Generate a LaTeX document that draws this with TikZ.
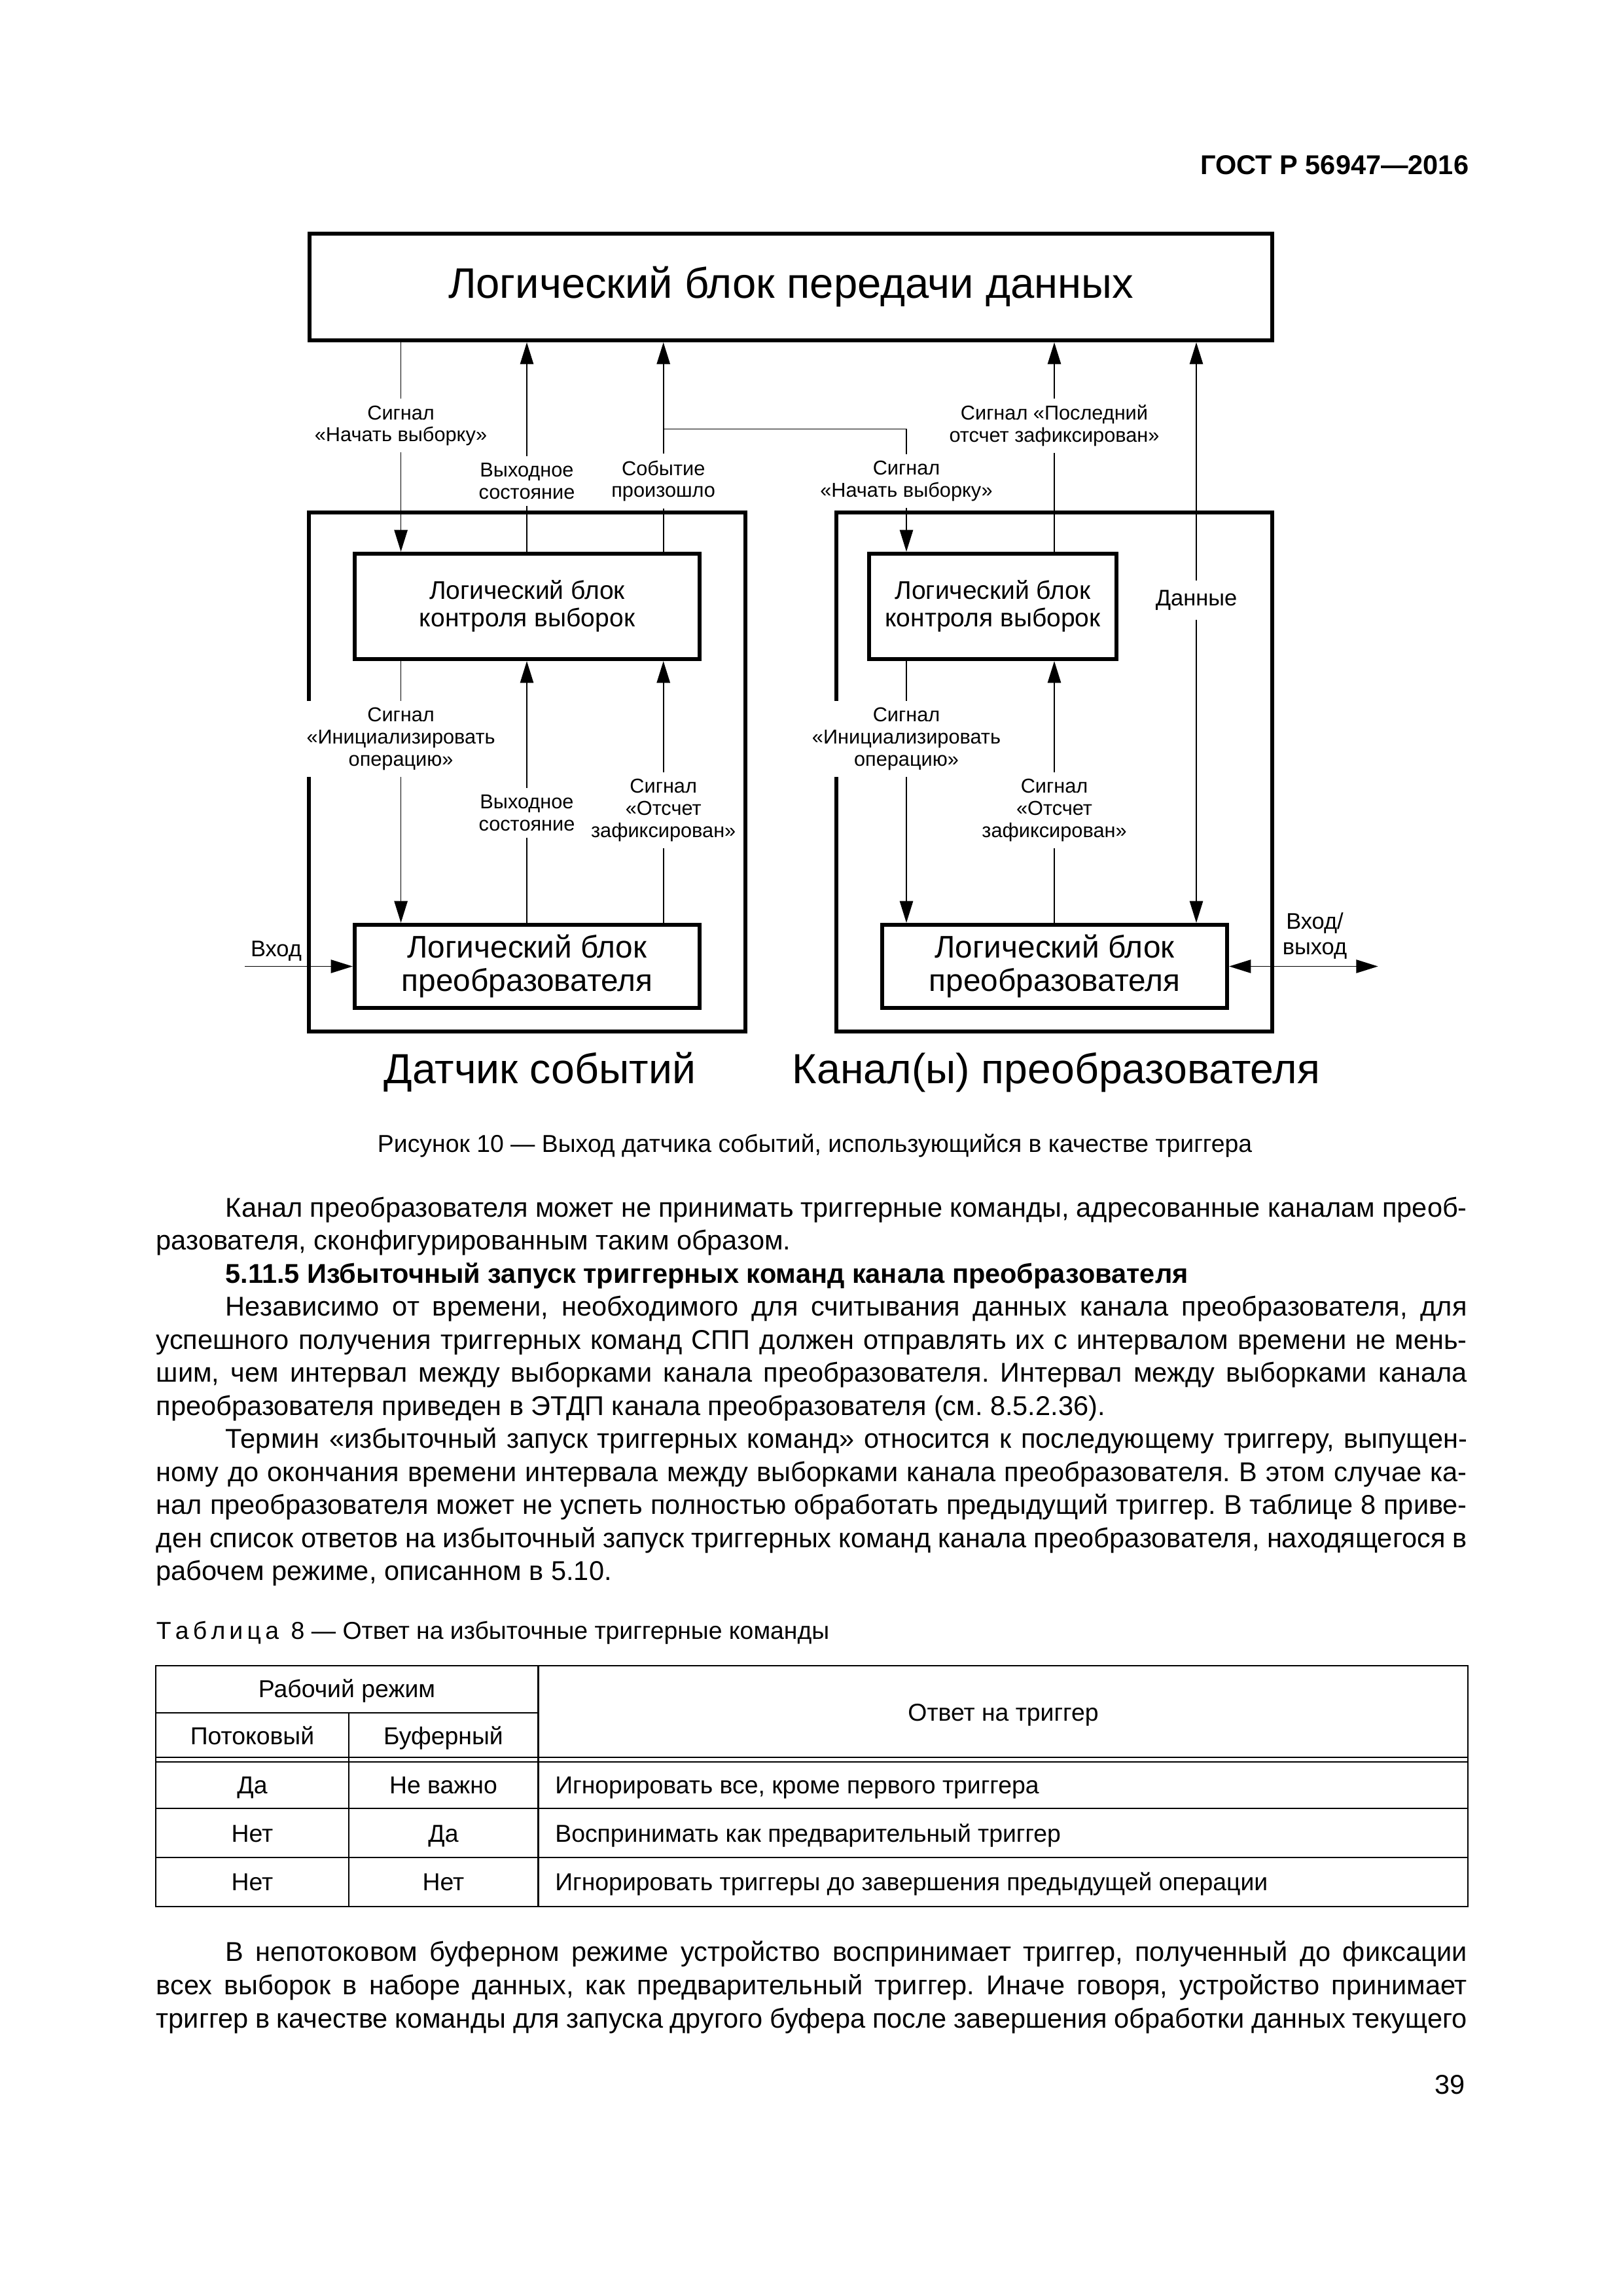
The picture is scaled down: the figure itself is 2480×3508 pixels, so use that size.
\documentclass[tikz,border=0pt]{standalone}
\usepackage{fontspec}
\setmainfont{Liberation Sans}
\usepackage{tikz}
\usetikzlibrary{arrows}
\usetikzlibrary{arrows.meta}
\usetikzlibrary{backgrounds}
\usetikzlibrary{positioning}

\newdimen\pxu
\pxu=0.084677mm
\newcommand{\fullln}[1]{\makebox[2003\pxu][s]{#1}}
\newcommand{\indln}[1]{\makebox[1897\pxu][s]{#1}}
\frenchspacing

\begin{document}
\begin{tikzpicture}
  [x=0.084677mm, y=-0.084677mm,
   >={Triangle[length=8pt,width=4.9pt]},
   block/.style={draw, line width=1.5pt, inner sep=0pt, align=center},
   sig/.style={fill=white, inner xsep=1.5pt, inner ysep=2.5pt, align=center,
               font=\fontsize{7.4}{8.1}\selectfont},
   port/.style={inner sep=0pt, align=center, font=\fontsize{8.3}{9.4}\selectfont},
   bigcap/.style={anchor=base, inner sep=0pt, font=\fontsize{15.5}{18}\selectfont},
   bodyline/.style={anchor=base west, inner sep=0pt, font=\fontsize{10}{12}\selectfont},
   cell/.style={anchor=base, inner sep=0pt, font=\fontsize{9}{11}\selectfont}
  ]

 \useasboundingbox (0,0) rectangle (2480,3508);

 \path (2245,266) node (gost) [anchor=base east, inner sep=0pt,
        font=\fontsize{10}{12}\selectfont\bfseries] {ГОСТ Р 56947—2016};

 % blocks of the figure
 \path
   (1208.5,438.5) node (data)    [block, minimum width=1471*\pxu, minimum height=163*\pxu,
                                  font=\fontsize{15.7}{18}\selectfont] {Логический блок передачи данных}
   (805.5,1179.5) node (sensor)  [block, minimum width=667*\pxu, minimum height=793*\pxu] {}
   (1611,1179.5)  node (channel) [block, minimum width=666*\pxu, minimum height=793*\pxu] {}
   (805.5,926.5)  node (ctrlL)   [block, minimum width=527*\pxu, minimum height=161*\pxu,
                                  font=\fontsize{9.4}{10.1}\selectfont] {Логический блок\\контроля выборок}
   (1517,926.5)   node (ctrlR)   [block, minimum width=378.5*\pxu, minimum height=161*\pxu,
                                  font=\fontsize{9.4}{10.1}\selectfont] {Логический блок\\контроля выборок}
   (805.5,1476.5) node (convL)   [block, minimum width=527*\pxu, minimum height=127*\pxu,
                                  font=\fontsize{11.5}{12.3}\selectfont] {Логический блок\\преобразователя}
   (1611.5,1476.5) node (convR)  [block, minimum width=527*\pxu, minimum height=127*\pxu,
                                  font=\fontsize{11.5}{12.3}\selectfont] {Логический блок\\преобразователя}
   (825,1655)     node (sensorcap)  [bigcap] {Датчик событий}
   (1614,1655)    node (channelcap) [bigcap] {Канал(ы) преобразователя}
   ;

 % signal labels, they sit on the lines
 \path
   (612.6,650.3)  node (startL) [sig] {Сигнал\\«Начать выборку»}
   (805,735)      node (outL)   [sig] {Выходное\\состояние}
   (1013.7,735)   node (evt)    [sig] {Событие\\произошло}
   (1385,735)     node (startR) [sig] {Сигнал\\«Начать выборку»}
   (1611,650.3)   node (lastR)  [sig] {Сигнал «Последний\\отсчет зафиксирован»}
   (1828,917)     node (dataR)  [port, fill=white, inner ysep=3.5pt] {Данные}
   (612.6,1129)   node (initL)  [sig] {Сигнал\\«Инициализировать\\операцию»}
   (805,1242)     node (stateL) [sig] {Выходное\\состояние}
   (1013.7,1238)  node (fixL)   [sig] {Сигнал\\«Отсчет\\зафиксирован»}
   (1385,1129)    node (initR)  [sig] {Сигнал\\«Инициализировать\\операцию»}
   (1611,1238)    node (fixR)   [sig] {Сигнал\\«Отсчет\\зафиксирован»}
   (422,1461.5)   node (inlbl)  [port, anchor=base] {Вход}
   (2009,1429.5)  node (iolbl)  [port] {Вход/\\выход}
   ;
 \coordinate (junc)   at (1013.7,655.5);
 \coordinate (inlet)  at (374,1476.5);
 \coordinate (outlet) at (2105.6,1476.5);

 \begin{scope}[on background layer, line width=1.35pt]
   \fill [white] (0,0) rectangle (2480,3508);
   % links of the data transfer block
   \draw [->] (data.south -| startL) -- (ctrlL.north -| startL);
   \draw [->] (ctrlL.north -| outL) -- (data.south -| outL);
   \draw [->] (ctrlL.north -| evt) -- (data.south -| evt);
   \draw [->] (junc) -| (ctrlR.north -| startR);
   \draw [->] (ctrlR.north -| lastR) -- (data.south -| lastR);
   \draw [<->] (data.south -| dataR) -- (convR.north -| dataR);
   % links inside the sensor
   \draw [->] (ctrlL.south -| initL) -- (convL.north -| initL);
   \draw [->] (convL.north -| stateL) -- (ctrlL.south -| stateL);
   \draw [->] (convL.north -| fixL) -- (ctrlL.south -| fixL);
   \draw [->] (inlet) -- (convL.west);
   % links inside the channel
   \draw [->] (ctrlR.south -| initR) -- (convR.north -| initR);
   \draw [->] (convR.north -| fixR) -- (ctrlR.south -| fixR);
   \draw [<->] (convR.east) -- (outlet);
 \end{scope}

 \path (1245,1760) node (figcap) [anchor=base, inner sep=0pt, font=\fontsize{9}{11}\selectfont]
   {Рисунок 10 — Выход датчика событий, использующийся в качестве триггера};

 % body text, line by line
 \path
   (344,1859)    node (p1a) [bodyline] {\indln{Канал преобразователя может не принимать триггерные команды, адресованные каналам преоб-}}
   (238,1909.5)  node (p1b) [bodyline] {разователя, сконфигурированным таким образом.}
   (344,1960)    node (h1)  [bodyline, font=\fontsize{10}{12}\selectfont\bfseries] {5.11.5 Избыточный запуск триггерных команд канала преобразователя}
   (344,2010.5)  node (p2a) [bodyline] {\indln{Независимо от времени, необходимого для считывания данных канала преобразователя, для}}
   (238,2061)    node (p2b) [bodyline] {\fullln{успешного получения триггерных команд СПП должен отправлять их с интервалом времени не мень-}}
   (238,2111.5)  node (p2c) [bodyline] {\fullln{шим, чем интервал между выборками канала преобразователя. Интервал между выборками канала}}
   (238,2162)    node (p2d) [bodyline] {преобразователя приведен в ЭТДП канала преобразователя (см. 8.5.2.36).}
   (344,2212.5)  node (p3a) [bodyline] {\indln{Термин «избыточный запуск триггерных команд» относится к последующему триггеру, выпущен-}}
   (238,2263)    node (p3b) [bodyline] {\fullln{ному до окончания времени интервала между выборками канала преобразователя. В этом случае ка-}}
   (238,2313.5)  node (p3c) [bodyline] {\fullln{нал преобразователя может не успеть полностью обработать предыдущий триггер. В таблице 8 приве-}}
   (238,2364)    node (p3d) [bodyline] {\fullln{ден список ответов на избыточный запуск триггерных команд канала преобразователя, находящегося в}}
   (238,2414)    node (p3e) [bodyline] {рабочем режиме, описанном в 5.10.}
   (238,2504.5)  node (tabcap) [bodyline, font=\fontsize{9}{11}\selectfont]
       {Т\,а\,б\,л\,и\,ц\,а\enspace 8 — Ответ на избыточные триггерные команды}
   (344,2996)    node (p4a) [bodyline] {\indln{В непотоковом буферном режиме устройство воспринимает триггер, полученный до фиксации}}
   (238,3047)    node (p4b) [bodyline] {\fullln{всех выборок в наборе данных, как предварительный триггер. Иначе говоря, устройство принимает}}
   (238,3098)    node (p4c) [bodyline] {\fullln{триггер в качестве команды для запуска другого буфера после завершения обработки данных текущего}}
   (2239,3199)   node (pageno) [anchor=base east, inner sep=0pt, font=\fontsize{10}{12}\selectfont] {39}
   ;

 % table 8
 \draw [line width=0.7pt] (238,2545) rectangle (2243,2913);
 \draw [line width=0.7pt]
   (238,2617) -- (822.5,2617)
   (533,2617) -- (533,2913)
   (822.5,2545) -- (822.5,2913)
   (238,2685) -- (2243,2685)
   (238,2692) -- (2243,2692)
   (238,2763) -- (2243,2763)
   (238,2838) -- (2243,2838);
 \path
   (530,2593)    node (mode)   [cell] {Рабочий режим}
   (1533,2629)   node (answer) [cell] {Ответ на триггер}
   (385.5,2665)  node (stream) [cell] {Потоковый}
   (677.5,2665)  node (buffer) [cell] {Буферный}
   (385.5,2740)  node (r1a) [cell] {Да}
   (677.5,2740)  node (r1b) [cell] {Не важно}
   (847.5,2740)  node (r1c) [cell, anchor=base west] {Игнорировать все, кроме первого триггера}
   (385.5,2814)  node (r2a) [cell] {Нет}
   (677.5,2814)  node (r2b) [cell] {Да}
   (847.5,2814)  node (r2c) [cell, anchor=base west] {Воспринимать как предварительный триггер}
   (385.5,2888)  node (r3a) [cell] {Нет}
   (677.5,2888)  node (r3b) [cell] {Нет}
   (847.5,2888)  node (r3c) [cell, anchor=base west] {Игнорировать триггеры до завершения предыдущей операции}
   ;
\end{tikzpicture}
\end{document}
